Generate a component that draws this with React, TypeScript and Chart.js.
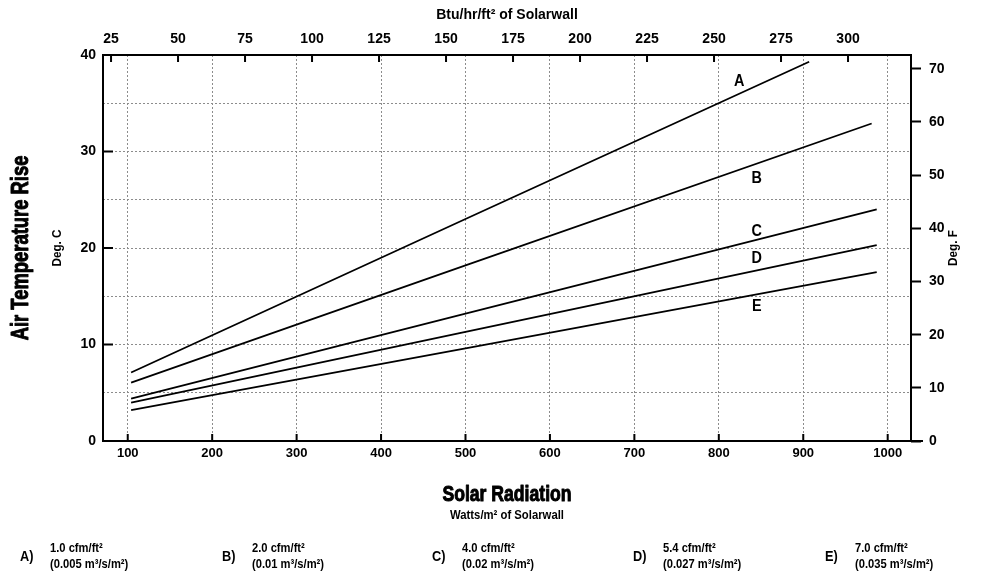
import React, { useEffect, useRef } from 'react';
import { Chart, registerables } from 'chart.js';
Chart.register(...registerables);

// ---- data ----
const SERIES_NAMES = ['A', 'B', 'C', 'D', 'E'];
const A_X = [104, 500, 907];
const A_Y = [7.1, 23.0, 39.3];
const B_X = [104, 500, 981];
const B_Y = [6.05, 18.2, 32.9];
const C_X = [104, 500, 987];
const C_Y = [4.4, 13.2, 24.0];
const D_X = [104, 500, 987];
const D_Y = [3.97, 11.3, 20.3];
const E_X = [104, 500, 987];
const E_Y = [3.2, 9.6, 17.5];

const LABEL_X = [824, 845, 845, 845, 845];
const LABEL_Y = [37.2, 27.2, 21.7, 18.9, 13.9];

const BOTTOM_TICKS = [100, 200, 300, 400, 500, 600, 700, 800, 900, 1000];
const TOP_TICKS = [25, 50, 75, 100, 125, 150, 175, 200, 225, 250, 275, 300];
const LEFT_TICKS = [0, 5, 10, 15, 20, 25, 30, 35, 40];
const RIGHT_TICKS = [0, 10, 20, 30, 40, 50, 60, 70];

const LEGEND_KEYS = ['A)', 'B)', 'C)', 'D)', 'E)'];
const FLOW_IMPERIAL = ['1.0 cfm/ft²', '2.0 cfm/ft²', '4.0 cfm/ft²', '5.4 cfm/ft²', '7.0 cfm/ft²'];
const FLOW_METRIC = ['(0.005 m³/s/m²)', '(0.01 m³/s/m²)', '(0.02 m³/s/m²)', '(0.027 m³/s/m²)', '(0.035 m³/s/m²)'];

const TITLE_TOP = 'Btu/hr/ft² of Solarwall';
const TITLE_LEFT = 'Air Temperature Rise';
const SUB_LEFT = 'Deg. C';
const SUB_RIGHT = 'Deg. F';
const TITLE_BOTTOM = 'Solar Radiation';
const SUB_BOTTOM = 'Watts/m² of Solarwall';

// ---- style ----
const FONT = "'Liberation Sans', Arial, sans-serif";
const LEGEND_POS = [20, 222, 432, 633, 825];

const xs = [A_X, B_X, C_X, D_X, E_X];
const ys = [A_Y, B_Y, C_Y, D_Y, E_Y];

function drawText(ctx: CanvasRenderingContext2D, t: string, x: number, y: number, font: string, sx: number, rot = 0, stroke = 0) {
  ctx.save();
  ctx.translate(x, y);
  if (rot) ctx.rotate(rot);
  ctx.scale(sx, 1);
  ctx.font = font;
  ctx.fillText(t, 0, 0);
  if (stroke) {
    ctx.lineWidth = stroke;
    ctx.strokeStyle = '#000';
    ctx.lineJoin = 'round';
    ctx.strokeText(t, 0, 0);
  }
  ctx.restore();
}

const decorPlugin = {
  id: 'decor',
  afterDraw(chart: any) {
    const { ctx, chartArea: ca, scales } = chart;
    const sx = scales.x, sx2 = scales.x2, sy = scales.y;
    ctx.save();
    ctx.setLineDash([]);
    ctx.strokeStyle = '#000';
    ctx.lineWidth = 2;
    ctx.strokeRect(ca.left, ca.top, ca.right - ca.left, ca.bottom - ca.top);
    ctx.beginPath();
    ctx.moveTo(ca.right, ca.bottom);
    ctx.lineTo(ca.right + 12, ca.bottom);
    ctx.stroke();
    // inward ticks
    ctx.beginPath();
    BOTTOM_TICKS.forEach(v => {
      const px = sx.getPixelForValue(v);
      ctx.moveTo(px, ca.bottom);
      ctx.lineTo(px, ca.bottom - 7);
    });
    TOP_TICKS.forEach(v => {
      const px = sx2.getPixelForValue(v);
      ctx.moveTo(px, ca.top);
      ctx.lineTo(px, ca.top + 7);
    });
    LEFT_TICKS.filter(v => v % 10 === 0).forEach(v => {
      const py = sy.getPixelForValue(v);
      ctx.moveTo(ca.left, py);
      ctx.lineTo(ca.left + 10, py);
    });
    ctx.stroke();

    ctx.fillStyle = '#000';
    ctx.textAlign = 'center';
    ctx.textBaseline = 'middle';
    SERIES_NAMES.forEach((n, i) => {
      drawText(ctx, n, sx.getPixelForValue(LABEL_X[i]), sy.getPixelForValue(LABEL_Y[i]), `bold 16px ${FONT}`, 0.9);
    });

    const cx = (ca.left + ca.right) / 2;
    const cy = (ca.top + ca.bottom) / 2;
    drawText(ctx, TITLE_TOP, cx, 15, `bold 14px ${FONT}`, 1.0);
    drawText(ctx, TITLE_BOTTOM, cx, 495, `bold 22px ${FONT}`, 0.8, 0, 1);
    drawText(ctx, SUB_BOTTOM, cx, 515, `bold 13px ${FONT}`, 0.87);
    drawText(ctx, TITLE_LEFT, 22, cy, `bold 23px ${FONT}`, 0.8, -Math.PI / 2, 1);
    drawText(ctx, SUB_LEFT, 57, cy, `bold 13px ${FONT}`, 0.9, -Math.PI / 2);
    drawText(ctx, SUB_RIGHT, 953, cy, `bold 13px ${FONT}`, 0.9, -Math.PI / 2);

    ctx.textAlign = 'left';
    LEGEND_KEYS.forEach((k, i) => {
      const lx = LEGEND_POS[i];
      drawText(ctx, k, lx, 557, `bold 15px ${FONT}`, 0.85);
      drawText(ctx, FLOW_IMPERIAL[i], lx + 30, 548, `bold 13px ${FONT}`, 0.86);
      drawText(ctx, FLOW_METRIC[i], lx + 30, 564, `bold 13px ${FONT}`, 0.86);
    });
    ctx.restore();
  },
};

export default function App() {
  const ref = useRef<HTMLCanvasElement | null>(null);
  useEffect(() => {
    if (!ref.current) return;
    const tickFont = { family: FONT, size: 14, weight: 'bold' as const };
    const chart = new Chart(ref.current, {
      type: 'line',
      data: {
        datasets: SERIES_NAMES.map((n, i) => ({
          label: n,
          data: xs[i].map((x, j) => ({ x, y: ys[i][j] })),
          borderColor: '#000',
          borderWidth: 1.8,
          pointRadius: 0,
          fill: false,
          tension: 0,
          xAxisID: 'x',
          yAxisID: 'y',
        })),
      },
      options: {
        responsive: false,
        animation: false,
        devicePixelRatio: 1,
        layout: { padding: 0 },
        plugins: { legend: { display: false }, tooltip: { enabled: false }, title: { display: false } },
        scales: {
          x: {
            type: 'linear',
            position: 'bottom',
            min: 70.7,
            max: 1027.6,
            afterBuildTicks: (s: any) => { s.ticks = BOTTOM_TICKS.map(v => ({ value: v })); },
            afterFit: (s: any) => { s.height = 139; },
            grid: { color: '#8c8c8c', lineWidth: 1, drawTicks: false },
            border: { display: false, dash: [2, 2] },
            ticks: { color: '#000', font: { ...tickFont, size: 13 }, padding: 5, maxRotation: 0, autoSkip: false, callback: (v: any) => String(v) },
          },
          x2: {
            type: 'linear',
            position: 'top',
            min: 22,
            max: 323.5,
            afterBuildTicks: (s: any) => { s.ticks = TOP_TICKS.map(v => ({ value: v })); },
            afterFit: (s: any) => { s.height = 55; },
            grid: { display: false, drawTicks: false },
            border: { display: false },
            ticks: { color: '#000', font: tickFont, padding: 7, maxRotation: 0, autoSkip: false, callback: (v: any) => String(v) },
          },
          y: {
            type: 'linear',
            position: 'left',
            min: 0,
            max: 40,
            afterBuildTicks: (s: any) => { s.ticks = LEFT_TICKS.map(v => ({ value: v })); },
            afterFit: (s: any) => { s.width = 103; },
            grid: { color: '#8c8c8c', lineWidth: 1, drawTicks: false },
            border: { display: false, dash: [2, 2] },
            ticks: {
              color: '#000', font: tickFont, padding: 7, autoSkip: false,
              callback: (v: any) => (Number(v) % 10 === 0 ? String(v) : ''),
            },
          },
          y2: {
            type: 'linear',
            position: 'right',
            min: 0,
            max: 72.6,
            afterBuildTicks: (s: any) => { s.ticks = RIGHT_TICKS.map(v => ({ value: v })); },
            afterFit: (s: any) => { s.width = 74; },
            grid: { display: true, drawOnChartArea: false, drawTicks: true, tickLength: 10, tickColor: '#000', tickWidth: 2, color: '#000' },
            border: { display: false },
            ticks: { color: '#000', font: tickFont, padding: 8, autoSkip: false, callback: (v: any) => String(v) },
          },
        },
      },
      plugins: [decorPlugin],
    } as any);
    return () => chart.destroy();
  }, []);
  return (
    <div style={{ position: 'absolute', left: 0, top: 0, width: 985, height: 580, background: '#fff' }}>
      <canvas ref={ref} width={985} height={580} style={{ display: 'block', width: 985, height: 580 }} />
    </div>
  );
}
